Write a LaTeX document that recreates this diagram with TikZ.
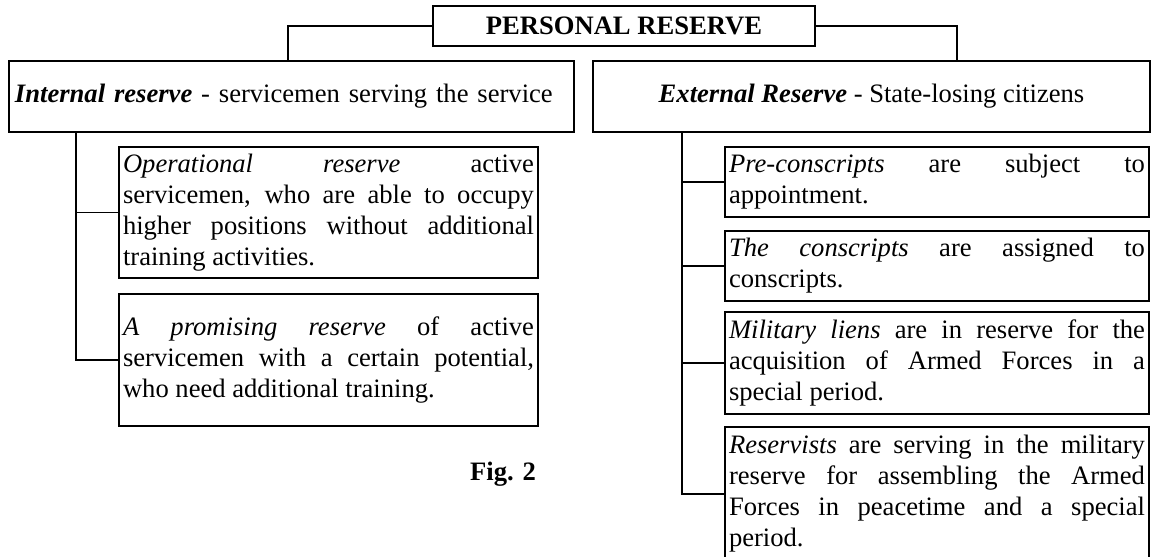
\documentclass[tikz,border=0pt]{standalone}
\usepackage{fontspec}
\setmainfont{Liberation Serif}
\newcommand\bodyfont{\fontsize{26.6}{31}\selectfont\hyphenpenalty=10000 \exhyphenpenalty=10000 \tolerance=10000 }
\tikzset{
  frame/.style={draw, line width=1.3pt, inner ysep=0pt},
  topbox/.style={frame, font=\bodyfont\bfseries, minimum width=382pt, minimum height=40pt},
  headbox/.style={frame, font=\bodyfont, minimum height=71pt},
  leftbox/.style={frame, font=\bodyfont, align=justify, inner xsep=4pt, text width=411pt},
  rightbox/.style={frame, font=\bodyfont, align=justify, inner xsep=4pt, text width=416pt},
  link/.style={line width=1.3pt},
}
\begin{document}
\begin{tikzpicture}[x=1pt,y=-1pt]
\useasboundingbox (0,0) rectangle (1152,557);

% root and the two kinds of reserve
\node[topbox] (personal) at (624,26) {PERSONAL RESERVE};
\node[headbox, align=left, inner xsep=6pt, text width=553pt] (internal) at (291.5,96.5)
  {\textbf{\textit{Internal reserve}} - servicemen serving the service};
\node[headbox, align=center, inner xsep=0pt, minimum width=557pt] (external) at (871.5,96.5)
  {\textbf{\textit{External Reserve}} - State-losing citizens};

\coordinate (ljoin) at (288,61);
\coordinate (rjoin) at (957,61);
\draw[link] (personal.west) -| (ljoin);
\draw[link] (personal.east) -| (rjoin);

% internal reserve
\node[leftbox, minimum height=131pt] (oper) at (328.5,212.5)
  {\textit{Operational reserve} active\linebreak servicemen, who are able to occupy\linebreak higher positions without additional\linebreak training activities.};
\node[leftbox, minimum height=132pt] (prom) at (328.5,360)
  {\textit{A promising reserve} of active\linebreak servicemen with a certain potential,\linebreak who need additional training.};

\coordinate (ltrunk) at (76,132);
\draw[link] (ltrunk) |- (prom.west);
\draw[link] (ltrunk |- oper.west) -- (oper.west);

% external reserve
\node[rightbox, minimum height=70pt] (pre) at (937,182)
  {\textit{Pre-conscripts} are subject to\linebreak appointment.};
\node[rightbox, minimum height=70pt] (cons) at (937,266)
  {\textit{The conscripts} are assigned to\linebreak conscripts.};
\node[rightbox, minimum height=102pt] (mil) at (937,363)
  {\textit{Military liens} are in reserve for the\linebreak acquisition of Armed Forces in a\linebreak special period.};
\node[rightbox, minimum height=134pt] (res) at (937,494)
  {\textit{Reservists} are serving in the military\linebreak reserve for assembling the Armed\linebreak Forces in peacetime and a special\linebreak period.};

\coordinate (rtrunk) at (682,132);
\draw[link] (rtrunk) |- (res.west);
\draw[link] (rtrunk |- pre.west) -- (pre.west);
\draw[link] (rtrunk |- cons.west) -- (cons.west);
\draw[link] (rtrunk |- mil.west) -- (mil.west);

\node[font=\bodyfont\bfseries] (fig) at (503,474) {Fig. 2};
\end{tikzpicture}
\end{document}
